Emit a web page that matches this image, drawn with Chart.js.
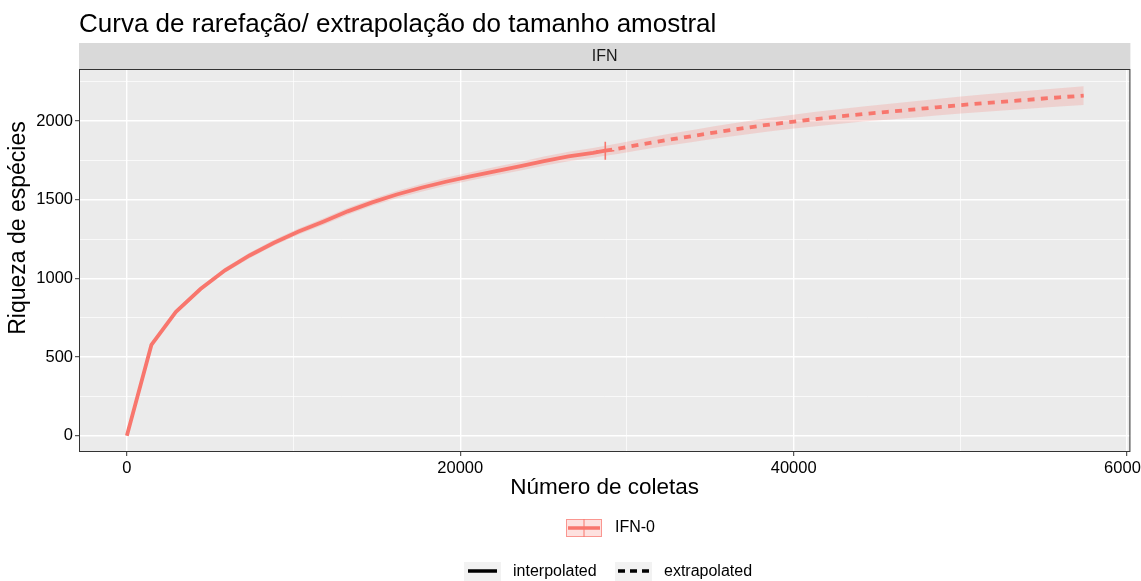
<!DOCTYPE html>
<html>
<head>
<meta charset="utf-8">
<script src="https://cdn.jsdelivr.net/npm/chart.js@4.4.1/dist/chart.umd.min.js"></script>
<style>
  html, body { margin: 0; padding: 0; background: #ffffff; }
  canvas { display: block; }
</style>
</head>
<body>
<canvas id="chart" width="1141" height="581"></canvas>
<script>
// sample sizes (knots) and estimated richness
const sizeInterp = [1, 1473, 2945, 4416, 5888, 7360, 8832, 10304, 11775, 13247, 14719,
  16191, 17663, 19134, 20606, 22078, 23550, 25022, 26493, 27965, 28700]
const richInterp = [1, 578, 788, 933, 1052, 1146, 1227, 1298, 1360, 1426, 1483,
  1533, 1576, 1614, 1648, 1680, 1712, 1745, 1775, 1797, 1811]
const lowerInterp = [1, 570, 776, 919, 1036, 1129, 1209, 1279, 1340, 1405, 1461,
  1510, 1551, 1589, 1622, 1653, 1684, 1716, 1745, 1766, 1779]
const upperInterp = [1, 586, 800, 947, 1068, 1163, 1245, 1317, 1380, 1447, 1505,
  1556, 1599, 1639, 1674, 1707, 1740, 1774, 1805, 1828, 1843]

const sizeExtrap = [29437, 30909, 32381, 33852, 35324, 36796, 38268, 39740, 41211, 42683,
  44155, 45627, 47099, 48570, 50042, 51514, 52986, 54458, 55929, 57400]
const richExtrap = [1824, 1852, 1879, 1903, 1928, 1951, 1973, 1993, 2011, 2028,
  2044, 2058, 2072, 2087, 2101, 2114, 2126, 2138, 2150, 2161]
const lowerExtrap = [1791, 1817, 1842, 1865, 1888, 1910, 1930, 1949, 1965, 1981,
  1996, 2008, 2021, 2035, 2047, 2059, 2070, 2081, 2092, 2102]
const upperExtrap = [1857, 1887, 1916, 1941, 1968, 1992, 2016, 2037, 2057, 2075,
  2092, 2108, 2123, 2139, 2155, 2169, 2182, 2195, 2208, 2220]

const obsSize = 28700
const obsRich = 1811

const xGrid = [0, 10000, 20000, 30000, 40000, 50000, 60000]
const xTickLabels = [0, 20000, 40000, 60000]
const yGrid = [0, 250, 500, 750, 1000, 1250, 1500, 1750, 2000, 2250]
const yTickLabels = [0, 500, 1000, 1500, 2000]

const lineColor = '#F8766D'
const bandColor = 'rgba(248, 118, 109, 0.22)'
const fontFamily = '"Liberation Sans", Arial, sans-serif'

Chart.defaults.font.family = fontFamily
Chart.defaults.color = '#000000'

function toPoints(xs, ys) {
  return xs.map((x, i) => ({ x: x, y: ys[i] }))
}

const bandX = sizeInterp.concat(sizeExtrap)
const bandLower = lowerInterp.concat(lowerExtrap)
const bandUpper = upperInterp.concat(upperExtrap)

// gray panel, facet strip, titles, border
const ggFrame = {
  id: 'ggFrame',
  beforeDraw(chart) {
    const { ctx, chartArea: a } = chart
    ctx.save()
    ctx.fillStyle = '#EBEBEB'
    ctx.fillRect(a.left, a.top, a.right - a.left, a.bottom - a.top)
    ctx.fillStyle = '#D9D9D9'
    ctx.fillRect(a.left, 43, a.right - a.left, a.top - 43)
    ctx.fillStyle = '#1A1A1A'
    ctx.font = '16px ' + fontFamily
    ctx.textAlign = 'center'
    ctx.textBaseline = 'middle'
    ctx.fillText('IFN', (a.left + a.right) / 2, 57)
    ctx.fillStyle = '#000000'
    ctx.font = '26px ' + fontFamily
    ctx.textAlign = 'left'
    ctx.textBaseline = 'alphabetic'
    ctx.fillText('Curva de rarefação/ extrapolação do tamanho amostral', a.left, 32)
    // y axis title
    ctx.translate(19, 228)
    ctx.rotate(-Math.PI / 2)
    ctx.font = '23px ' + fontFamily
    ctx.textAlign = 'center'
    ctx.textBaseline = 'middle'
    ctx.fillText('Riqueza de espécies', 0, 0)
    ctx.restore()
  },
  afterDraw(chart) {
    const { ctx, chartArea: a } = chart
    ctx.save()
    ctx.strokeStyle = '#333333'
    ctx.lineWidth = 1
    ctx.strokeRect(a.left + 0.5, a.top + 0.5, a.right - a.left - 1, a.bottom - a.top - 1)
    ctx.restore()
  }
}

// ggplot style legends under the plot
const ggLegend = {
  id: 'ggLegend',
  afterDraw(chart) {
    const ctx = chart.ctx
    ctx.save()
    ctx.fillStyle = bandColor
    ctx.fillRect(566, 519, 36, 18)
    ctx.strokeStyle = 'rgba(248, 118, 109, 0.7)'
    ctx.lineWidth = 1
    ctx.strokeRect(566.5, 519.5, 35, 17)
    ctx.strokeStyle = lineColor
    ctx.lineWidth = 3.5
    ctx.beginPath()
    ctx.moveTo(568, 528)
    ctx.lineTo(600, 528)
    ctx.stroke()
    ctx.lineWidth = 1
    ctx.beginPath()
    ctx.moveTo(584, 519)
    ctx.lineTo(584, 537)
    ctx.stroke()

    ctx.fillStyle = '#000000'
    ctx.font = '16px ' + fontFamily
    ctx.textBaseline = 'middle'
    ctx.fillText('IFN-0', 615, 528)

    ctx.fillStyle = '#F2F2F2'
    ctx.fillRect(464, 562, 37, 19)
    ctx.fillRect(615, 562, 37, 19)
    ctx.strokeStyle = '#000000'
    ctx.lineWidth = 3.5
    ctx.beginPath()
    ctx.moveTo(468, 571)
    ctx.lineTo(497, 571)
    ctx.stroke()
    ctx.setLineDash([7, 5])
    ctx.beginPath()
    ctx.moveTo(618, 571)
    ctx.lineTo(649, 571)
    ctx.stroke()
    ctx.setLineDash([])
    ctx.fillStyle = '#000000'
    ctx.fillText('interpolated', 513, 572)
    ctx.fillText('extrapolated', 664, 572)
    ctx.restore()
  }
}

const ctx = document.getElementById('chart').getContext('2d')
new Chart(ctx, {
  type: 'line',
  data: {
    datasets: [
      {
        data: toPoints(bandX, bandLower),
        borderWidth: 0,
        pointRadius: 0,
        fill: false,
        order: 5
      },
      {
        data: toPoints(bandX, bandUpper),
        borderWidth: 0,
        pointRadius: 0,
        backgroundColor: bandColor,
        fill: '-1',
        order: 4
      },
      {
        data: toPoints(sizeInterp, richInterp),
        borderColor: lineColor,
        borderWidth: 3.8,
        pointRadius: 0,
        tension: 0,
        fill: false,
        order: 2
      },
      {
        data: toPoints([obsSize].concat(sizeExtrap), [obsRich].concat(richExtrap)),
        borderColor: lineColor,
        borderWidth: 3.8,
        borderDash: [7, 6.3],
        pointRadius: 0,
        tension: 0,
        fill: false,
        order: 3
      },
      {
        data: [{ x: obsSize, y: obsRich }],
        showLine: false,
        borderColor: lineColor,
        backgroundColor: lineColor,
        pointStyle: 'cross',
        pointRadius: 9,
        pointBorderWidth: 1.6,
        pointBorderColor: lineColor,
        fill: false,
        order: 1
      }
    ]
  },
  options: {
    responsive: false,
    animation: false,
    devicePixelRatio: 1,
    layout: { padding: { left: 0, right: 9, top: 69, bottom: 73 } },
    plugins: {
      legend: { display: false },
      tooltip: { enabled: false },
      title: { display: false }
    },
    scales: {
      x: {
        type: 'linear',
        min: -2870,
        max: 60200,
        afterBuildTicks: scale => { scale.ticks = xGrid.map(v => ({ value: v })) },
        afterFit: scale => {
          scale.height = 56
          scale.paddingLeft = 0
          scale.paddingRight = 0
        },
        ticks: {
          autoSkip: false,
          maxRotation: 0,
          padding: 3,
          color: '#000000',
          font: { size: 16.5 },
          callback: value => xTickLabels.includes(value) ? String(value) : ''
        },
        grid: {
          color: '#FFFFFF',
          lineWidth: c => xTickLabels.includes(c.tick.value) ? 1.4 : 0.7,
          tickLength: 4,
          tickWidth: 1,
          tickColor: c => xTickLabels.includes(c.tick.value) ? '#333333' : 'rgba(0,0,0,0)'
        },
        border: { display: false },
        title: {
          display: true,
          text: 'Número de coletas',
          color: '#000000',
          font: { size: 22.5 },
          padding: { top: 0, bottom: 7 }
        }
      },
      y: {
        type: 'linear',
        min: -102,
        max: 2330,
        afterBuildTicks: scale => { scale.ticks = yGrid.map(v => ({ value: v })) },
        afterFit: scale => {
          scale.width = 79
          scale.paddingTop = 0
          scale.paddingBottom = 0
        },
        ticks: {
          autoSkip: false,
          padding: 2,
          color: '#000000',
          font: { size: 16.5 },
          callback: value => yTickLabels.includes(value) ? String(value) : ''
        },
        grid: {
          color: '#FFFFFF',
          lineWidth: c => yTickLabels.includes(c.tick.value) ? 1.4 : 0.7,
          tickLength: 4,
          tickWidth: 1,
          tickColor: c => yTickLabels.includes(c.tick.value) ? '#333333' : 'rgba(0,0,0,0)'
        },
        border: { display: false },
        title: { display: false }
      }
    }
  },
  plugins: [ggFrame, ggLegend]
})
</script>
</body>
</html>
